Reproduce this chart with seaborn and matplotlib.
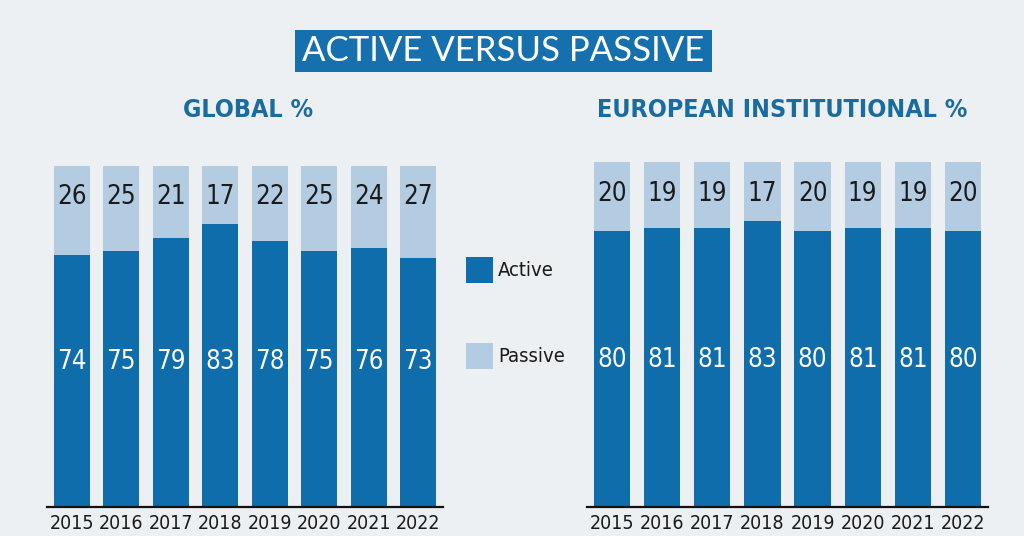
import matplotlib
matplotlib.use("Agg")
import matplotlib.pyplot as plt
from matplotlib import font_manager
from matplotlib.patches import Rectangle
import seaborn as sns
import pandas as pd

years = ["2015", "2016", "2017", "2018", "2019", "2020", "2021", "2022"]
global_active = [74, 75, 79, 83, 78, 75, 76, 73]
global_passive = [26, 25, 21, 17, 22, 25, 24, 27]
euro_active = [80, 81, 81, 83, 80, 81, 81, 80]
euro_passive = [20, 19, 19, 17, 20, 19, 19, 20]

BG = "#ECF0F2"
ACTIVE = "#0F6DAB"
PASSIVE = "#B3CCE2"
TITLE_BLUE = "#1570AD"
SUB_BLUE = "#1A6CA0"

sns.set_theme(style="white")
names = {f.name for f in font_manager.fontManager.ttflist}
cond_family = ["DejaVu Sans"]
cond_stretch = "normal"
if "Liberation Sans Narrow" in names:
    cond_family = ["Liberation Sans Narrow", "DejaVu Sans"]
elif any(f.name == "DejaVu Sans" and f.stretch == "condensed" for f in font_manager.fontManager.ttflist):
    cond_stretch = "condensed"
plt.rcParams["font.family"] = cond_family

fig = plt.figure(figsize=(10.24, 5.36), dpi=100)
fig.patch.set_facecolor(BG)

def panel(rect, active, passive):
    ax = fig.add_axes(rect)
    ax.set_facecolor(BG)
    df = pd.DataFrame({"year": years, "active": active, "passive": passive})
    df["total"] = df["active"] + df["passive"]
    sns.barplot(data=df, x="year", y="total", color=PASSIVE, saturation=1,
                width=0.725, linewidth=0, edgecolor="none", ax=ax)
    sns.barplot(data=df, x="year", y="active", color=ACTIVE, saturation=1,
                width=0.725, linewidth=0, edgecolor="none", ax=ax)
    ax.set_xlim(-0.5, len(years) - 0.5)
    ax.set_ylim(0, 100)
    for s in ["top", "right", "left"]:
        ax.spines[s].set_visible(False)
    ax.spines["bottom"].set_color("#111111")
    ax.spines["bottom"].set_linewidth(1.6)
    ax.set_yticks([])
    ax.set_xlabel("")
    ax.set_ylabel("")
    ax.tick_params(axis="x", length=0, pad=5)
    for lab in ax.get_xticklabels():
        lab.set_fontsize(14)
        lab.set_color("#1a1a1a")
        lab.set_fontstretch(cond_stretch)
    for i in range(len(years)):
        ax.text(i, 90.8, str(passive[i]), ha="center", va="center",
                fontsize=18.5, color="#1a1a1a", fontstretch=cond_stretch)
        ax.text(i, 42.5, str(active[i]), ha="center", va="center",
                fontsize=18.5, color="white", fontstretch=cond_stretch)
    return ax

panel([47 / 1024, 29 / 536, 396 / 1024, 341 / 536], global_active, global_passive)
panel([587 / 1024, 29 / 536, 401 / 1024, 345 / 536], euro_active, euro_passive)

# title box
fig.patches.append(Rectangle((295 / 1024, 1 - 72 / 536), 417 / 1024, 42 / 536,
                             transform=fig.transFigure, facecolor=TITLE_BLUE,
                             edgecolor="none"))
fig.text(503 / 1024, 1 - 51 / 536, "ACTIVE VERSUS PASSIVE", ha="center", va="center",
         fontsize=25, color="white", family=["Lato", "DejaVu Sans"], fontweight="normal")

fig.text(248 / 1024, 1 - 110 / 536, "GLOBAL %", ha="center", va="center",
         fontsize=18, color=SUB_BLUE, fontweight="bold", fontstretch=cond_stretch)
fig.text(782 / 1024, 1 - 110 / 536, "EUROPEAN INSTITUTIONAL %", ha="center", va="center",
         fontsize=18, color=SUB_BLUE, fontweight="bold", fontstretch=cond_stretch)

# legend
for label, color, yc in [("Active", ACTIVE, 270), ("Passive", PASSIVE, 356)]:
    fig.patches.append(Rectangle((466 / 1024, 1 - (yc + 13) / 536), 27 / 1024, 26 / 536,
                                 transform=fig.transFigure, facecolor=color,
                                 edgecolor="none"))
    fig.text(498 / 1024, 1 - yc / 536, label, ha="left", va="center",
             fontsize=14.5, color="#1a1a1a", fontstretch=cond_stretch)

fig.savefig("out.png", dpi=100, facecolor=BG)
